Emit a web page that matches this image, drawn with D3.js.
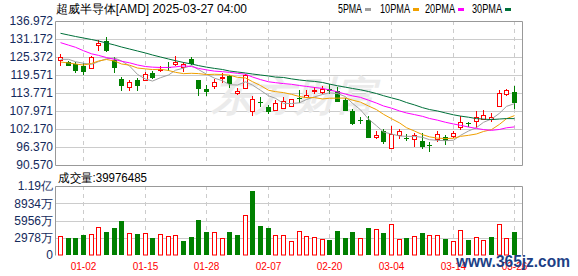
<!DOCTYPE html>
<html>
<head>
<meta charset="utf-8">
<script src="https://cdn.jsdelivr.net/npm/d3@7"></script>
<style>
  body { margin: 0; background: #fff; }
  svg { display: block; }
  text { font-family: "Liberation Sans", Arial, sans-serif; }
</style>
</head>
<body>
<div id="d3-container"></div>
<script>
/**
 * CONSTANTS AND GLOBALS
 * AMD daily k-line, 12-27 .. 03-26, with 5/10/20/30 day averages and volume
 * */
const width = 578,
  height = 276,
  plot = { left: 55, right: 522, top: 21, bottom: 165 },
  volPlot = { top: 186, bottom: 255 };

const red = "#ff0000",
  green = "#008000",
  gridColor = "#cccccc",
  frameColor = "#999999",
  labelColor = "#142a5c";

/**
 * DATA
 * */
const dates = [
  "12-27", "12-30", "12-31",
  "01-02", "01-03", "01-06", "01-07", "01-08", "01-10", "01-13", "01-14", "01-15", "01-16", "01-17",
  "01-21", "01-22", "01-23", "01-24", "01-27", "01-28", "01-29", "01-30", "01-31",
  "02-03", "02-04", "02-05", "02-06", "02-07", "02-10", "02-11", "02-12", "02-13", "02-14",
  "02-18", "02-19", "02-20", "02-21", "02-24", "02-25", "02-26", "02-27", "02-28",
  "03-03", "03-04", "03-05", "03-06", "03-07", "03-10", "03-11", "03-12", "03-13", "03-14",
  "03-17", "03-18", "03-19", "03-20", "03-21", "03-24", "03-25", "03-26"
];

const opens = [
  124.5, 123.76, 123.0, 122.37, 121.92, 129.24, 130.53, 124.4, 118.38, 115.6,
  117.96, 117.86, 120.31, 121.2, 122.3, 123.2, 122.15, 124.73, 117.86, 115.06,
  116.03, 118.5, 119.25, 113.87, 115.48, 107.97, 111.0, 109.26, 108.3, 109.04,
  109.68, 112.2, 112.5, 114.3, 114.2, 114.96, 114.52, 111.5, 108.07, 105.05,
  105.07, 99.7, 101.53, 96.05, 100.24, 99.2, 99.05, 98.3, 97.0, 98.95,
  99.7, 99.83, 102.82, 104.0, 104.66, 105.3, 105.5, 109.6, 113.45, 114.1
];
const highs = [
  126.2, 124.1, 123.86, 123.34, 125.7, 130.85, 131.9, 125.3, 118.83, 117.86,
  118.6, 120.44, 120.96, 122.6, 123.8, 125.7, 123.86, 125.5, 118.0, 116.35,
  118.38, 120.1, 119.6, 115.29, 119.8, 112.7, 112.5, 109.9, 111.5, 112.6,
  111.94, 114.7, 114.7, 115.6, 115.93, 116.67, 115.8, 112.0, 108.7, 106.1,
  106.3, 101.53, 102.07, 103.14, 102.07, 100.5, 100.8, 100.98, 98.1, 101.53,
  100.14, 101.4, 106.46, 104.5, 107.97, 108.3, 107.23, 114.7, 115.16, 116.03
];
const lows = [
  122.6, 122.4, 120.31, 119.67, 121.6, 127.3, 126.9, 120.3, 114.52, 114.52,
  114.5, 117.64, 118.38, 120.6, 120.96, 122.57, 120.6, 122.8, 112.9, 112.8,
  115.0, 116.9, 115.5, 113.1, 115.16, 106.46, 109.2, 106.9, 108.1, 108.8,
  109.17, 110.65, 112.26, 113.5, 113.35, 113.45, 110.78, 108.0, 103.56, 103.8,
  99.2, 98.85, 97.24, 96.0, 98.85, 98.4, 96.5, 95.8, 94.8, 98.1,
  97.1, 99.3, 101.85, 102.7, 102.4, 105.07, 104.53, 109.36, 112.8, 108.6
];
const closes = [
  125.3, 122.57, 120.96, 120.64, 125.47, 129.79, 127.3, 121.9, 116.13, 117.32,
  116.13, 119.8, 118.7, 121.6, 121.7, 123.86, 123.1, 123.0, 115.06, 114.2,
  117.32, 119.0, 116.6, 114.52, 119.47, 111.94, 110.7, 107.75, 110.45, 111.2,
  111.74, 111.9, 113.13, 114.6, 115.06, 114.3, 110.97, 108.07, 103.8, 104.65,
  99.4, 100.14, 98.08, 100.46, 101.53, 98.8, 100.14, 96.5, 96.7, 100.46,
  98.2, 100.9, 104.33, 103.7, 105.95, 106.78, 106.14, 113.67, 114.74, 110.45
];

// volume in 万 shares, and whether the bar is drawn red (1) or green (0)
const volumes = [
  3318, 2974, 2974, 3490, 3662, 4865, 4005, 4745, 5896, 3833,
  3662, 3833, 2974, 3662, 3197, 3490, 2458, 3146, 6120, 4005,
  4005, 2974, 4005, 3490, 6927, 11053, 5037, 4745, 3490, 3490,
  2458, 4177, 3318, 3146, 2802, 2630, 4177, 2974, 4005, 2974,
  4693, 4521, 3833, 5380, 2802, 2974, 3318, 3833, 3490, 3490,
  2802, 2458, 4349, 2630, 3146, 2630, 3146, 5380, 2974, 3998
];
const volUp = [
  1, 0, 0, 0, 1, 1, 0, 0, 0, 1,
  0, 1, 0, 1, 1, 1, 0, 0, 0, 0,
  1, 1, 0, 0, 1, 0, 0, 0, 1, 1,
  1, 1, 1, 1, 1, 0, 0, 0, 0, 1,
  0, 1, 0, 1, 1, 0, 1, 0, 1, 1,
  0, 1, 1, 0, 1, 1, 0, 1, 1, 0
];

const ma5 = [
  124.63, 124.63, 123.86, 123.34, 122.99, 123.89, 124.83, 125.02, 124.12, 122.49,
  119.76, 118.26, 117.62, 118.71, 119.57, 121.11, 121.77, 122.63, 121.32, 119.84,
  118.54, 117.72, 116.44, 116.33, 117.38, 116.31, 114.65, 112.88, 112.06, 110.41,
  110.37, 110.61, 111.68, 112.51, 113.29, 113.80, 113.61, 112.60, 110.44, 108.36,
  105.38, 103.21, 101.21, 100.55, 99.92, 99.80, 99.80, 99.49, 98.73, 98.52,
  98.40, 98.55, 100.12, 101.52, 102.62, 104.33, 105.38, 107.25, 109.46, 110.36
];
const ma10 = [
  123.76, 123.44, 123.12, 122.79, 123.28, 124.08, 124.57, 124.08, 123.12, 122.74,
  121.82, 121.54, 121.32, 121.41, 121.03, 120.43, 120.01, 120.12, 120.02, 119.70,
  119.81, 119.73, 119.52, 118.82, 118.61, 117.42, 116.18, 114.66, 114.20, 113.90,
  113.34, 112.63, 112.28, 112.29, 111.85, 112.08, 112.11, 112.14, 111.48, 110.82,
  109.59, 108.41, 106.91, 105.49, 104.14, 102.59, 101.51, 100.35, 99.64, 99.22,
  99.10, 99.18, 99.80, 100.13, 100.57, 101.37, 101.97, 103.68, 105.49, 106.49
];
const ma20 = [
  130.0, 129.2, 128.5, 127.4, 126.4, 125.9, 125.2, 124.6, 124.0, 123.5,
  122.8, 122.3, 122.1, 122.0, 122.0, 122.2, 122.5, 122.3, 121.7, 121.22,
  120.82, 120.64, 120.42, 120.12, 119.82, 118.92, 118.09, 117.39, 117.10, 116.80,
  116.58, 116.18, 115.90, 115.55, 115.23, 114.75, 114.15, 113.40, 112.84, 112.36,
  111.46, 110.52, 109.59, 108.89, 107.99, 107.34, 106.81, 106.25, 105.56, 105.02,
  104.34, 103.79, 103.35, 102.81, 102.35, 101.98, 101.74, 102.02, 102.56, 102.85
];
const ma30 = [
  133.01, 132.46, 131.98, 131.49, 131.01, 130.53, 129.88, 129.24, 128.59, 127.95,
  127.30, 126.66, 126.02, 125.37, 124.73, 124.18, 123.60, 123.12, 122.60, 122.10,
  121.70, 121.34, 120.86, 120.54, 120.22, 119.89, 119.57, 119.25, 118.90, 118.78,
  118.32, 117.97, 117.71, 117.51, 117.16, 116.64, 116.10, 115.64, 115.23, 114.80,
  114.25, 113.59, 112.90, 112.20, 111.53, 110.70, 109.93, 109.05, 108.44, 107.98,
  107.34, 106.74, 106.33, 105.97, 105.52, 105.35, 105.19, 105.39, 105.53, 105.51
];

const priceTicks = [136.972, 131.172, 125.372, 119.571, 113.771, 107.971, 102.170, 96.370, 90.570];
const volTicks = [0, 2978, 5956, 8934, 11912];
const volTickLabels = ["0", "2978万", "5956万", "8934万", "1.19亿"];
const xTickLabels = ["01-02", "01-15", "01-28", "02-07", "02-20", "03-04", "03-14", "03-26"];

const maSeries = [
  { name: "5PMA", values: ma5, color: "#a0a0a0" },
  { name: "10PMA", values: ma10, color: "#f0a000" },
  { name: "20PMA", values: ma20, color: "#ff00ff" },
  { name: "30PMA", values: ma30, color: "#00703a" }
];

/**
 * SCALES
 * */
const xScale = d3.scaleBand().domain(d3.range(dates.length)).range([56, 518]);
const xc = i => Math.round(xScale(i) + xScale.bandwidth() / 2);
const yScale = d3.scaleLinear().domain([90.570, 136.972]).range([plot.bottom, plot.top]);
const vScale = d3.scaleLinear().domain([0, 11912]).range([volPlot.bottom, volPlot.top]);
const tickIdx = xTickLabels.map(d => dates.indexOf(d));

const svg = d3
  .select("#d3-container")
  .append("svg")
  .attr("width", width)
  .attr("height", height);

svg.append("rect").attr("width", width).attr("height", height).attr("fill", "#fff");

// horizontal grid lines
svg.append("g")
  .selectAll("line")
  .data(priceTicks.slice(1, -1))
  .join("line")
  .attr("x1", plot.left).attr("x2", plot.right)
  .attr("y1", d => Math.round(yScale(d)) + 0.5)
  .attr("y2", d => Math.round(yScale(d)) + 0.5)
  .attr("stroke", gridColor);

svg.append("g")
  .selectAll("line")
  .data(volTicks.slice(1, -1))
  .join("line")
  .attr("x1", plot.left).attr("x2", plot.right)
  .attr("y1", d => Math.round(vScale(d)) + 0.5)
  .attr("y2", d => Math.round(vScale(d)) + 0.5)
  .attr("stroke", gridColor);

// dashed date lines in both panels
[[plot.top, plot.bottom], [volPlot.top, volPlot.bottom]].forEach(([t, b]) => {
  svg.append("g")
    .selectAll("line")
    .data(tickIdx)
    .join("line")
    .attr("x1", d => xc(d) + 0.5).attr("x2", d => xc(d) + 0.5)
    .attr("y1", t).attr("y2", b)
    .attr("stroke", gridColor)
    .attr("stroke-dasharray", "4,4");
});

// faint watermark
svg.append("text")
  .attr("x", 212).attr("y", 110)
  .attr("font-family", "Noto Sans CJK SC")
  .attr("font-size", 40)
  .attr("font-weight", "bold")
  .attr("font-style", "italic")
  .attr("textLength", 165)
  .attr("lengthAdjust", "spacingAndGlyphs")
  .attr("fill", "#ebebeb")
  .text("东方财富");

// frames
svg.append("path")
  .attr("d", `M${plot.left + 0.5},${plot.top + 0.5}H${plot.right + 0.5}V${plot.bottom + 0.5}H${plot.left + 0.5}Z`)
  .attr("fill", "none")
  .attr("stroke", frameColor);
svg.append("path")
  .attr("d", `M${plot.left + 0.5},${volPlot.bottom + 0.5}V${volPlot.top + 0.5}H${plot.right + 0.5}V${volPlot.bottom + 0.5}`)
  .attr("fill", "none")
  .attr("stroke", frameColor);

// AXES (labels only)
const yAxis = d3.axisLeft(yScale)
  .tickValues(priceTicks)
  .tickFormat(d3.format(".3f"))
  .tickSize(0)
  .tickPadding(2);
svg.append("g")
  .attr("transform", `translate(${plot.left},0)`)
  .call(yAxis)
  .call(g => g.select(".domain").remove())
  .selectAll("text")
  .attr("font-family", "Liberation Sans")
  .attr("font-size", 12)
  .attr("fill", labelColor);

const vAxis = d3.axisLeft(vScale)
  .tickValues(volTicks)
  .tickFormat((d, i) => volTickLabels[i])
  .tickSize(0)
  .tickPadding(2);
svg.append("g")
  .attr("transform", `translate(${plot.left},0)`)
  .call(vAxis)
  .call(g => g.select(".domain").remove())
  .selectAll("text")
  .attr("font-family", "Liberation Sans, Noto Sans CJK SC")
  .attr("font-size", 12)
  .attr("fill", labelColor);

svg.append("g")
  .selectAll("text")
  .data(tickIdx)
  .join("text")
  .attr("x", d => xc(d) + 0.5)
  .attr("y", 270)
  .attr("text-anchor", "middle")
  .attr("font-family", "Liberation Mono")
  .attr("font-size", 10)
  .attr("fill", red)
  .text(d => dates[d]);

// CANDLES
const candles = svg.append("g")
  .selectAll("g")
  .data(d3.range(dates.length))
  .join("g");

candles.append("line")
  .attr("x1", i => xc(i) + 0.5).attr("x2", i => xc(i) + 0.5)
  .attr("y1", i => Math.round(yScale(highs[i])))
  .attr("y2", i => Math.round(yScale(lows[i])))
  .attr("stroke", i => (closes[i] >= opens[i] ? red : green));

candles.append("rect")
  .attr("x", i => (closes[i] >= opens[i] ? xc(i) - 1.5 : xc(i) - 2))
  .attr("width", i => (closes[i] >= opens[i] ? 4 : 5))
  .attr("y", i => {
    const top = Math.round(yScale(Math.max(opens[i], closes[i])));
    return closes[i] >= opens[i] ? top + 0.5 : top;
  })
  .attr("height", i => {
    const h = Math.round(yScale(Math.min(opens[i], closes[i]))) - Math.round(yScale(Math.max(opens[i], closes[i])));
    return Math.max(h, 1);
  })
  .attr("fill", i => (closes[i] >= opens[i] ? "#fff" : green))
  .attr("stroke", i => (closes[i] >= opens[i] ? red : "none"));

// MOVING AVERAGES
const line = d3.line()
  .x((d, i) => xc(i) + 0.5)
  .y(d => yScale(d));

svg.append("g")
  .selectAll("path")
  .data(maSeries)
  .join("path")
  .attr("d", d => line(d.values))
  .attr("fill", "none")
  .attr("stroke", d => d.color)
  .attr("stroke-width", 1);

// VOLUME
svg.append("g")
  .selectAll("rect")
  .data(volumes)
  .join("rect")
  .attr("x", (d, i) => (volUp[i] ? xc(i) - 1.5 : xc(i) - 2))
  .attr("width", (d, i) => (volUp[i] ? 4 : 5))
  .attr("y", (d, i) => Math.round(vScale(d)) + (volUp[i] ? 0.5 : 0))
  .attr("height", (d, i) => volPlot.bottom - Math.round(vScale(d)) - (volUp[i] ? 0.5 : 0))
  .attr("fill", (d, i) => (volUp[i] ? "#fff" : green))
  .attr("stroke", (d, i) => (volUp[i] ? red : "none"));

// TITLE + LEGEND
svg.append("text")
  .attr("x", 56).attr("y", 13)
  .attr("font-family", "Noto Sans CJK SC")
  .attr("font-size", 12)
  .attr("textLength", 191)
  .attr("lengthAdjust", "spacingAndGlyphs")
  .attr("fill", "#000")
  .text("超威半导体[AMD] 2025-03-27 04:00");

const legendX = [338, 380, 425, 472];
const legend = svg.append("g")
  .selectAll("g")
  .data(maSeries)
  .join("g")
  .attr("transform", (d, i) => `translate(${legendX[i]},0)`);
legend.append("text")
  .attr("y", 13)
  .attr("font-family", "Liberation Serif")
  .attr("font-size", 12)
  .attr("textLength", d => d.name.length * 6)
  .attr("lengthAdjust", "spacingAndGlyphs")
  .attr("fill", "#000")
  .text(d => d.name);
legend.append("rect")
  .attr("x", d => d.name.length * 6 + 3)
  .attr("y", 8)
  .attr("width", 6)
  .attr("height", 3)
  .attr("fill", d => d.color);

svg.append("text")
  .attr("x", 58).attr("y", 182)
  .attr("font-family", "Noto Sans CJK SC")
  .attr("font-size", 12)
  .attr("textLength", 89)
  .attr("lengthAdjust", "spacingAndGlyphs")
  .attr("fill", "#000")
  .text("成交量:39976485");

// site mark, bottom right
svg.append("text")
  .attr("x", 456).attr("y", 267)
  .attr("font-family", "Liberation Serif")
  .attr("font-size", 17)
  .attr("font-weight", "bold")
  .attr("textLength", 114)
  .attr("lengthAdjust", "spacingAndGlyphs")
  .attr("fill", "#1d3f86")
  .text("www.365jz.com");
</script>
</body>
</html>
